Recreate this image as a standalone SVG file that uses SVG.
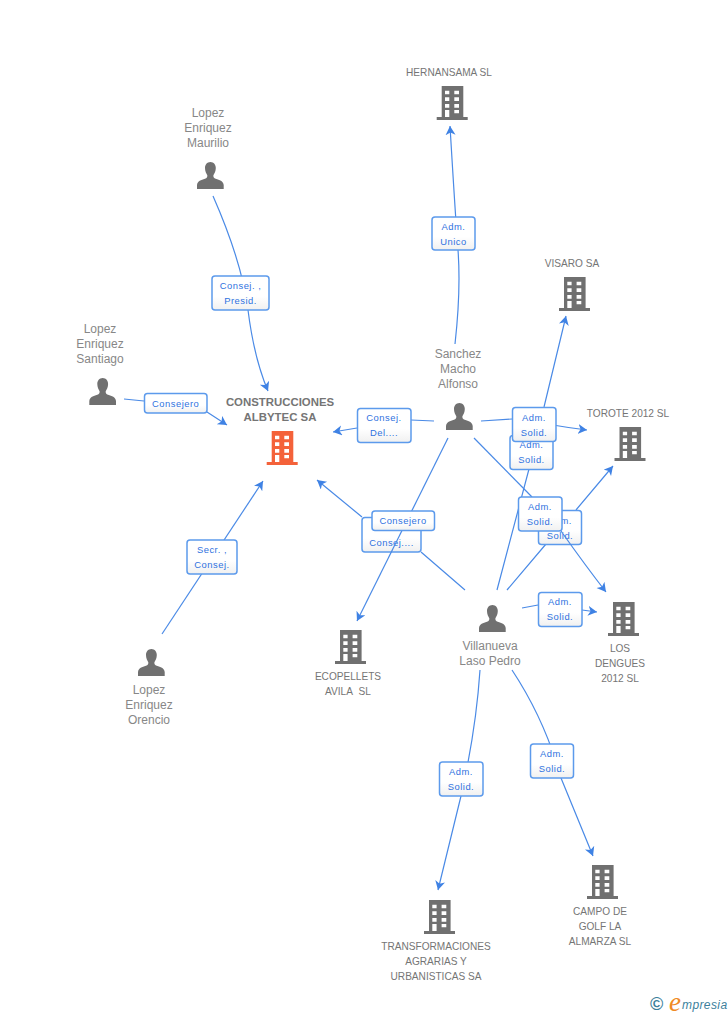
<svg xmlns="http://www.w3.org/2000/svg" width="728" height="1015" viewBox="0 0 728 1015">
<style>
text{font-family:"Liberation Sans",Arial,sans-serif}
.n{font-size:12px;fill:#878787;text-anchor:middle}
.c{font-size:10.1px;fill:#757575;text-anchor:middle}
.m{font-size:11.4px;font-weight:bold;fill:#757575;text-anchor:middle}
.l{fill:none;stroke:#4a8ae6;stroke-width:1.2}
.a{fill:none;stroke:#4a8ae6;stroke-width:1.2;marker-end:url(#arr)}
.b{fill:url(#bg);stroke:#5c9aec;stroke-width:1.5}
.t{font-size:9.4px;letter-spacing:.5px;fill:#2f72e0;text-anchor:middle}
</style>
<defs>
<linearGradient id="bg" x1="0" y1="0" x2="0" y2="1"><stop offset="0" stop-color="#fff"/><stop offset=".6" stop-color="#fff"/><stop offset="1" stop-color="#f0f0f0"/></linearGradient>
<marker id="arr" markerUnits="userSpaceOnUse" markerWidth="12" markerHeight="12" refX="9" refY="5" orient="auto"><path d="M0 0L9 5L0 10L2.5 5Z" fill="#3f82e4"/></marker>
<path id="bld" fill-rule="evenodd" d="M5 0H26.6V31H31V34H0V31H5ZM8.3 4.7V8.3H12.6V4.7ZM17.6 4.7V8.3H22.3V4.7ZM8.3 11.3V15H12.6V11.3ZM17.6 11.3V15H22.3V11.3ZM8.3 18V21.7H12.6V18ZM17.6 18V21.7H22.3V18ZM8.3 24V31H12.6V24ZM17.6 24V27.3H22.3V24Z"/>
<path id="per" d="M13.4 0C10 0 8 2.8 8 6C8 9 9.3 11.7 10.3 13.2C10.5 15 9.8 16 8 16.8C4 18.3 .6 18.8 0 23V27H26.7V23C26.1 18.8 22.7 18.3 18.7 16.8C16.9 16 16.2 15 16.4 13.2C17.4 11.7 18.8 9 18.8 6C18.8 2.8 16.8 0 13.4 0Z"/>
</defs>
<rect width="728" height="1015" fill="#fff"/>
<g id="connectors">
<path class="a" d="M213 196Q242 262 248 310T268 391"/>
<path class="a" d="M124 399L144 401M207 412L227 425"/>
<path class="a" d="M162 634L263 481"/>
<path class="a" d="M455 344Q461 290 458 250T450 126"/>
<path class="a" d="M434 421L411 420M357 428L333 432"/>
<path class="a" d="M481 421L512 419M556 425.500Q570 428 587 430"/>
<path class="a" d="M465 590L421 552M362 517L317 480"/>
<path class="a" d="M497 590L529 469M544 407L566 316"/>
<path class="a" d="M507 590L546 544M576 510L613 466"/>
<path class="a" d="M522 608L538 605M582 610L597 612"/>
<path class="a" d="M480 670Q476 730 461 796L438 890"/>
<path class="a" d="M512 670Q545 720 561 778L593 856"/>
<path class="l" d="M474 438L532 497"/>
<g id="lb-unico"><rect class="b" x="432" y="217" width="43" height="33" rx="3"/><text class="t" x="453.500" y="230">Adm.</text><text class="t" x="453.500" y="245">Unico</text></g>
<g id="lb-presid"><rect class="b" x="212" y="276" width="57" height="34" rx="3"/><text class="t" x="240.500" y="289">Consej. ,</text><text class="t" x="240.500" y="304">Presid.</text></g>
<g id="lb-santiago"><rect class="b" x="144.500" y="393.500" width="62.500" height="19.500" rx="3"/><text class="t" x="175.700" y="407">Consejero</text></g>
<g id="lb-del"><rect class="b" x="357.500" y="408.500" width="53.500" height="34" rx="3"/><text class="t" x="384" y="421">Consej.</text><text class="t" x="384" y="436">Del....</text></g>
<g id="lb-visaro"><rect class="b" x="510" y="435.500" width="43" height="34" rx="3"/><text class="t" x="531.500" y="448">Adm.</text><text class="t" x="531.500" y="463">Solid.</text></g>
<g id="lb-torote"><rect class="b" x="512.500" y="407.500" width="43.500" height="34" rx="3"/><text class="t" x="534" y="421">Adm.</text><text class="t" x="534" y="436">Solid.</text></g>
<g id="lb-torote2"><rect class="b" x="538.500" y="510.500" width="43" height="34" rx="3"/><text class="t" x="560" y="524">Adm.</text><text class="t" x="560" y="539">Solid.</text></g>
<path class="a" d="M561 531Q585 565 606 592"/>
<g id="lb-dengues"><rect class="b" x="518.500" y="497" width="43.500" height="34" rx="3"/><text class="t" x="540" y="510">Adm.</text><text class="t" x="540" y="525">Solid.</text></g>
<g id="lb-consej"><rect class="b" x="362" y="517.500" width="59" height="34.500" rx="3"/><text class="t" x="391.500" y="546">Consej....</text></g>
<path class="a" d="M448 438L357 621"/>
<g id="lb-consejero"><rect class="b" x="372" y="511" width="62.500" height="19.500" rx="3"/><text class="t" x="403" y="524">Consejero</text></g>
<g id="lb-dengues2"><rect class="b" x="538.500" y="592.500" width="43.500" height="34" rx="3"/><text class="t" x="560" y="605">Adm.</text><text class="t" x="560" y="620">Solid.</text></g>
<g id="lb-transf"><rect class="b" x="439.500" y="762" width="43.500" height="34" rx="3"/><text class="t" x="461" y="775">Adm.</text><text class="t" x="461" y="790">Solid.</text></g>
<g id="lb-campo"><rect class="b" x="530.500" y="744" width="43" height="34" rx="3"/><text class="t" x="552" y="757">Adm.</text><text class="t" x="552" y="772">Solid.</text></g>
<g id="lb-secr"><rect class="b" x="187" y="540" width="50" height="34" rx="3"/><text class="t" x="212" y="553">Secr. ,</text><text class="t" x="212" y="568">Consej.</text></g>
</g>
<g id="n-albytec"><text class="m" x="280" y="406">CONSTRUCCIONES</text><text class="m" x="280" y="421">ALBYTEC SA</text><use href="#bld" x="266.700" y="431" fill="#f4623a"/></g>
<g id="n-hernansama"><text class="c" x="449" y="76">HERNANSAMA SL</text><use href="#bld" x="436.700" y="86" fill="#707070"/></g>
<g id="n-visaro"><text class="c" x="572" y="267">VISARO SA</text><use href="#bld" x="559" y="277" fill="#707070"/></g>
<g id="n-torote"><text class="c" x="628" y="417">TOROTE 2012 SL</text><use href="#bld" x="614.500" y="427" fill="#707070"/></g>
<g id="n-dengues"><use href="#bld" x="608" y="602" fill="#707070"/><text class="c" x="620" y="652">LOS</text><text class="c" x="620" y="667">DENGUES</text><text class="c" x="620" y="682">2012 SL</text></g>
<g id="n-ecopellets"><use href="#bld" x="335" y="630" fill="#707070"/><text class="c" x="348" y="680">ECOPELLETS</text><text class="c" x="348" y="695">AVILA&#160; SL</text></g>
<g id="n-campo"><use href="#bld" x="587" y="865" fill="#707070"/><text class="c" x="600" y="915">CAMPO DE</text><text class="c" x="600" y="930">GOLF LA</text><text class="c" x="600" y="945">ALMARZA SL</text></g>
<g id="n-transf"><use href="#bld" x="424" y="900" fill="#707070"/><text class="c" x="436" y="950">TRANSFORMACIONES</text><text class="c" x="436" y="965">AGRARIAS Y</text><text class="c" x="436" y="980">URBANISTICAS SA</text></g>
<g id="n-maurilio"><text class="n" x="208" y="117">Lopez</text><text class="n" x="208" y="132">Enriquez</text><text class="n" x="208" y="147">Maurilio</text><use href="#per" x="197" y="162" fill="#707070"/></g>
<g id="n-santiago"><text class="n" x="100" y="333">Lopez</text><text class="n" x="100" y="348">Enriquez</text><text class="n" x="100" y="363">Santiago</text><use href="#per" x="89.300" y="378" fill="#707070"/></g>
<g id="n-sanchez"><text class="n" x="458" y="358">Sanchez</text><text class="n" x="458" y="373">Macho</text><text class="n" x="458" y="388">Alfonso</text><use href="#per" x="446" y="403" fill="#707070"/></g>
<g id="n-orencio"><use href="#per" x="138" y="649" fill="#707070"/><text class="n" x="149" y="694">Lopez</text><text class="n" x="149" y="709">Enriquez</text><text class="n" x="149" y="724">Orencio</text></g>
<g id="n-villanueva"><use href="#per" x="479" y="605" fill="#707070"/><text class="n" x="490" y="650">Villanueva</text><text class="n" x="490" y="665">Laso Pedro</text></g>
<g id="logo"><text x="650" y="1010" font-size="18" font-weight="bold" fill="#3d7f9c">©</text><text x="669" y="1011" font-size="27" font-style="italic" style="font-family:'Liberation Serif',serif" fill="#f08a24">e</text><text x="682" y="1009" font-size="12" font-style="italic" letter-spacing=".4" fill="#3d7f9c">mpresia</text></g>
</svg>
